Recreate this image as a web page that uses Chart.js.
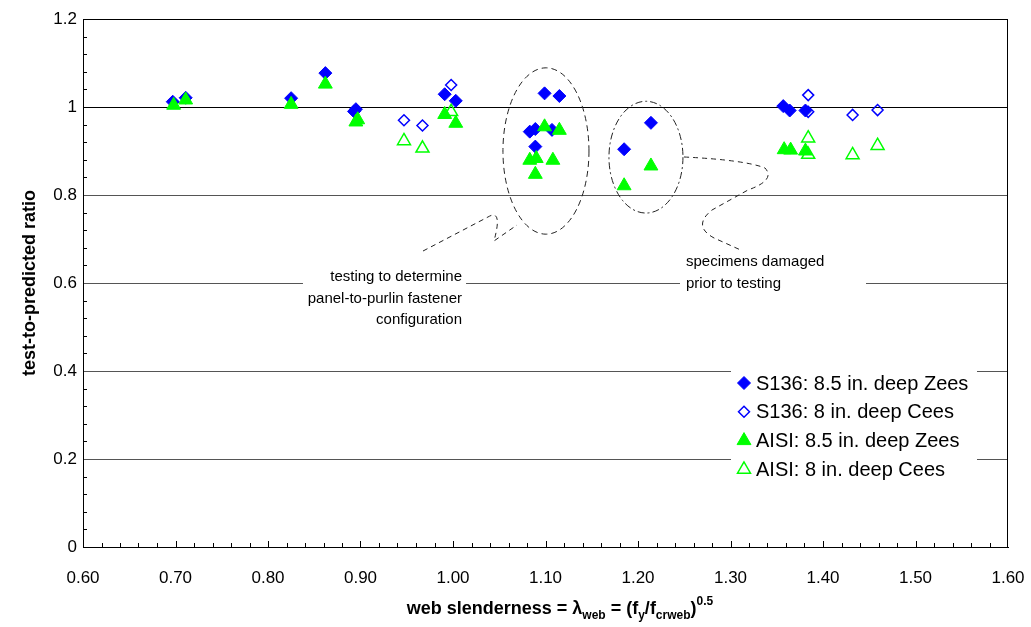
<!DOCTYPE html>
<html>
<head>
<meta charset="utf-8">
<script src="https://cdn.jsdelivr.net/npm/chart.js@4/dist/chart.umd.min.js"></script>
<style>
  body { margin: 0; background: #fff; }
</style>
</head>
<body>
<canvas id="grafico" width="1031" height="627"></canvas>
<script>
// valores (razao teste/previsto x esbeltez da alma)
var s136ZeesX = [0.697, 0.711, 0.825, 0.862, 0.895, 0.893, 0.991, 1.003, 1.083, 1.089, 1.107, 1.089, 1.099, 1.115, 1.185, 1.214, 1.357, 1.364, 1.381];
var s136ZeesY = [1.012, 1.021, 1.020, 1.077, 0.995, 0.990, 1.029, 1.014, 0.944, 0.950, 0.948, 0.910, 1.031, 1.025, 0.904, 0.964, 1.002, 0.992, 0.992];

var s136CeesX = [0.947, 0.967, 0.998, 1.384, 1.384, 1.432, 1.459];
var s136CeesY = [0.970, 0.958, 1.050, 1.027, 0.989, 0.982, 0.993];

var aisiZeesX = [0.698, 0.711, 0.825, 0.862, 0.895, 0.897, 0.991, 1.003, 1.099, 1.115, 1.083, 1.090, 1.108, 1.089, 1.185, 1.214, 1.358, 1.365, 1.381];
var aisiZeesY = [1.004, 1.016, 1.006, 1.052, 0.966, 0.971, 0.983, 0.963, 0.955, 0.947, 0.879, 0.883, 0.879, 0.847, 0.821, 0.866, 0.903, 0.902, 0.900];

var aisiCeesX = [0.947, 0.967, 0.998, 1.384, 1.384, 1.432, 1.459];
var aisiCeesY = [0.923, 0.906, 0.989, 0.929, 0.892, 0.891, 0.912];

var nomesSeries = ['S136: 8.5 in. deep Zees', 'S136: 8 in. deep Cees', 'AISI: 8.5 in. deep Zees', 'AISI: 8 in. deep Cees'];

var tituloY = 'test-to-predicted ratio';
var notaEsquerda = ['testing to determine', 'panel-to-purlin fastener', 'configuration'];
var notaDireita = ['specimens damaged', 'prior to testing'];

var azul = '#0000ff';
var verde = '#00ff00';

function juntaPontos(vx, vy) {
  var pts = [];
  for (var i = 0; i < vx.length; i++) {
    pts.push({ x: vx[i], y: vy[i] });
  }
  return pts;
}

// estilos dos marcadores (usados tambem na legenda)
var estilos = [
  { pointStyle: 'rectRot', r: 6.5, fill: azul, cor: azul, lw: 1 },
  { pointStyle: 'rectRot', r: 5.5, fill: 'rgba(0,0,0,0)', cor: azul, lw: 1.5 },
  { pointStyle: 'triangle', r: 8, fill: verde, cor: verde, lw: 1 },
  { pointStyle: 'triangle', r: 7.5, fill: 'rgba(0,0,0,0)', cor: verde, lw: 1.5 }
];

var dadosX = [s136ZeesX, s136CeesX, aisiZeesX, aisiCeesX];
var dadosY = [s136ZeesY, s136CeesY, aisiZeesY, aisiCeesY];

var datasets = [];
for (var k = 0; k < 4; k++) {
  datasets.push({
    label: nomesSeries[k],
    data: juntaPontos(dadosX[k], dadosY[k]),
    pointStyle: estilos[k].pointStyle,
    pointRadius: estilos[k].r,
    pointHoverRadius: estilos[k].r,
    backgroundColor: estilos[k].fill,
    borderColor: estilos[k].cor,
    borderWidth: estilos[k].lw,
    order: 4 - k
  });
}

// desenha a marca (losango / triangulo) na legenda
function marcador(ctx, est, x, y) {
  ctx.save();
  ctx.beginPath();
  var r = est.r;
  if (est.pointStyle === 'rectRot') {
    ctx.moveTo(x - r, y); ctx.lineTo(x, y - r); ctx.lineTo(x + r, y); ctx.lineTo(x, y + r);
  } else {
    ctx.moveTo(x, y - r);
    ctx.lineTo(x - r * 0.866, y + r * 0.5);
    ctx.lineTo(x + r * 0.866, y + r * 0.5);
  }
  ctx.closePath();
  ctx.fillStyle = est.fill;
  ctx.fill();
  ctx.lineWidth = est.lw;
  ctx.strokeStyle = est.cor;
  ctx.stroke();
  ctx.restore();
}

// caminhos das setas tracejadas, em coordenadas do grafico
var seta1 = [
  ['M', 0.9676, 0.6727], ['L', 1.0378, 0.750],
  ['Q', 1.0541, 0.7705, 1.0443, 0.6955], ['L', 1.0692, 0.7318]
];
var seta2 = [
  ['M', 1.2497, 0.8864], ['Q', 1.3157, 0.8795, 1.3373, 0.8614],
  ['Q', 1.3492, 0.8341, 1.3189, 0.8114], ['L', 1.2800, 0.7659],
  ['Q', 1.2584, 0.7295, 1.2822, 0.7023], ['L', 1.3157, 0.6705]
];

var extras = {
  id: 'extras',
  afterDatasetsDraw: function (chart) {
    var ctx = chart.ctx;
    var xs = chart.scales.x, ys = chart.scales.y;
    var a = chart.chartArea;
    function px(v) { return xs.getPixelForValue(v); }
    function py(v) { return ys.getPixelForValue(v); }

    ctx.save();
    // moldura
    ctx.strokeStyle = '#000';
    ctx.lineWidth = 1;
    ctx.strokeRect(Math.round(a.left) + 0.5, Math.round(a.top) + 0.5, Math.round(a.right - a.left) - 1, Math.round(a.bottom - a.top));

    // tracinhos menores
    ctx.beginPath();
    for (var i = 1; i < 30; i++) {
      if (i % 5 === 0) continue;
      var yy = Math.round(py(i * 0.04)) + 0.5;
      ctx.moveTo(a.left, yy); ctx.lineTo(a.left + 4, yy);
    }
    for (var j = 1; j < 50; j++) {
      var xx = Math.round(px(0.6 + j * 0.02)) + 0.5;
      var comp = (j % 5 === 0) ? 6 : 4;
      ctx.moveTo(xx, a.bottom); ctx.lineTo(xx, a.bottom - comp);
    }
    ctx.stroke();

    // elipses
    ctx.strokeStyle = '#222';
    ctx.setLineDash([6, 4]);
    ctx.beginPath();
    ctx.ellipse(px(1.1005), py(0.90), px(1.1005 + 0.0465) - px(1.1005), py(0.90) - py(0.90 + 0.189), 0, 0, Math.PI * 2);
    ctx.stroke();
    ctx.setLineDash([7, 3, 2, 3]);
    ctx.beginPath();
    ctx.ellipse(px(1.2086), py(0.886), px(1.2086 + 0.040) - px(1.2086), py(0.886) - py(0.886 + 0.127), 0, 0, Math.PI * 2);
    ctx.stroke();

    // setas
    ctx.setLineDash([5, 4]);
    [seta1, seta2].forEach(function (seta) {
      ctx.beginPath();
      seta.forEach(function (c) {
        if (c[0] === 'M') ctx.moveTo(px(c[1]), py(c[2]));
        else if (c[0] === 'L') ctx.lineTo(px(c[1]), py(c[2]));
        else ctx.quadraticCurveTo(px(c[1]), py(c[2]), px(c[3]), py(c[4]));
      });
      ctx.stroke();
    });
    ctx.setLineDash([]);

    // caixas de texto
    ctx.fillStyle = '#fff';
    ctx.fillRect(px(0.8378), py(0.634), px(1.0141) - px(0.8378), py(0.493) - py(0.634));
    ctx.fillRect(px(1.2454), py(0.675), px(1.4465) - px(1.2454), py(0.5727) - py(0.675));
    ctx.fillStyle = '#000';
    ctx.font = '15px Arial, "Liberation Sans", sans-serif';
    ctx.textBaseline = 'middle';
    ctx.textAlign = 'right';
    var yl = [0.6136, 0.5648, 0.5159];
    notaEsquerda.forEach(function (t, n) { ctx.fillText(t, px(1.0097), py(yl[n])); });
    ctx.textAlign = 'left';
    var yr = [0.6477, 0.5989];
    notaDireita.forEach(function (t, n) { ctx.fillText(t, px(1.2519), py(yr[n])); });

    // legenda
    var lx = a.right - 277, ly = 362;
    ctx.fillStyle = '#fff';
    ctx.fillRect(lx, ly, 246, 120);
    ctx.font = '20px Arial, "Liberation Sans", sans-serif';
    for (var s = 0; s < 4; s++) {
      var cy = ly + 21 + s * 28.8;
      marcador(ctx, estilos[s], lx + 13, cy);
      ctx.fillStyle = '#000';
      ctx.fillText(nomesSeries[s], lx + 25, cy + 1);
    }

    // titulo do eixo x com indices
    var partes = [
      { t: 'web slenderness = \u03bb', s: 18, dy: 0 },
      { t: 'web', s: 12, dy: 5 },
      { t: ' = (f', s: 18, dy: 0 },
      { t: 'y', s: 12, dy: 5 },
      { t: '/f', s: 18, dy: 0 },
      { t: 'crweb', s: 12, dy: 5 },
      { t: ')', s: 18, dy: 0 },
      { t: '0.5', s: 12, dy: -9 }
    ];
    ctx.textBaseline = 'alphabetic';
    var total = 0;
    partes.forEach(function (p) {
      ctx.font = 'bold ' + p.s + 'px Arial, "Liberation Sans", sans-serif';
      p.w = ctx.measureText(p.t).width;
      total += p.w;
    });
    var x0 = 560 - total / 2;
    partes.forEach(function (p) {
      ctx.font = 'bold ' + p.s + 'px Arial, "Liberation Sans", sans-serif';
      ctx.fillText(p.t, x0, 614 + p.dy);
      x0 += p.w;
    });
    ctx.restore();
  }
};

var ctx = document.getElementById('grafico').getContext('2d');
var chart = new Chart(ctx, {
  type: 'scatter',
  data: { datasets: datasets },
  options: {
    responsive: false,
    animation: false,
    layout: { padding: { left: 0, right: 23, top: 19, bottom: 0 } },
    plugins: {
      legend: { display: false },
      tooltip: { enabled: false }
    },
    scales: {
      x: {
        type: 'linear',
        min: 0.6,
        max: 1.6,
        afterFit: function (scale) {
          scale.height = 80;
          scale.paddingLeft = 0;
          scale.paddingRight = 0;
        },
        ticks: {
          stepSize: 0.1,
          padding: 21,
          color: '#000',
          font: { family: 'Arial, "Liberation Sans", sans-serif', size: 17 },
          callback: function (v) { return v.toFixed(2); }
        },
        grid: { display: false, drawTicks: false },
        border: { display: true, color: '#000', width: 1 }
      },
      y: {
        min: 0,
        max: 1.2,
        afterFit: function (scale) { scale.width = 83; },
        ticks: {
          stepSize: 0.2,
          padding: 6,
          color: '#000',
          font: { family: 'Arial, "Liberation Sans", sans-serif', size: 17 },
          callback: function (v) { return String(Math.round(v * 10) / 10); }
        },
        grid: {
          drawTicks: false,
          lineWidth: 1,
          color: function (c) {
            return Math.abs(c.tick.value - 1) < 1e-6 ? '#000' : '#555';
          }
        },
        border: { display: true, color: '#000', width: 1 },
        title: {
          display: true,
          text: tituloY,
          color: '#000',
          padding: { top: 19, bottom: 0 },
          font: { family: 'Arial, "Liberation Sans", sans-serif', size: 18, weight: 'bold' }
        }
      }
    }
  },
  plugins: [extras]
});
</script>
</body>
</html>
